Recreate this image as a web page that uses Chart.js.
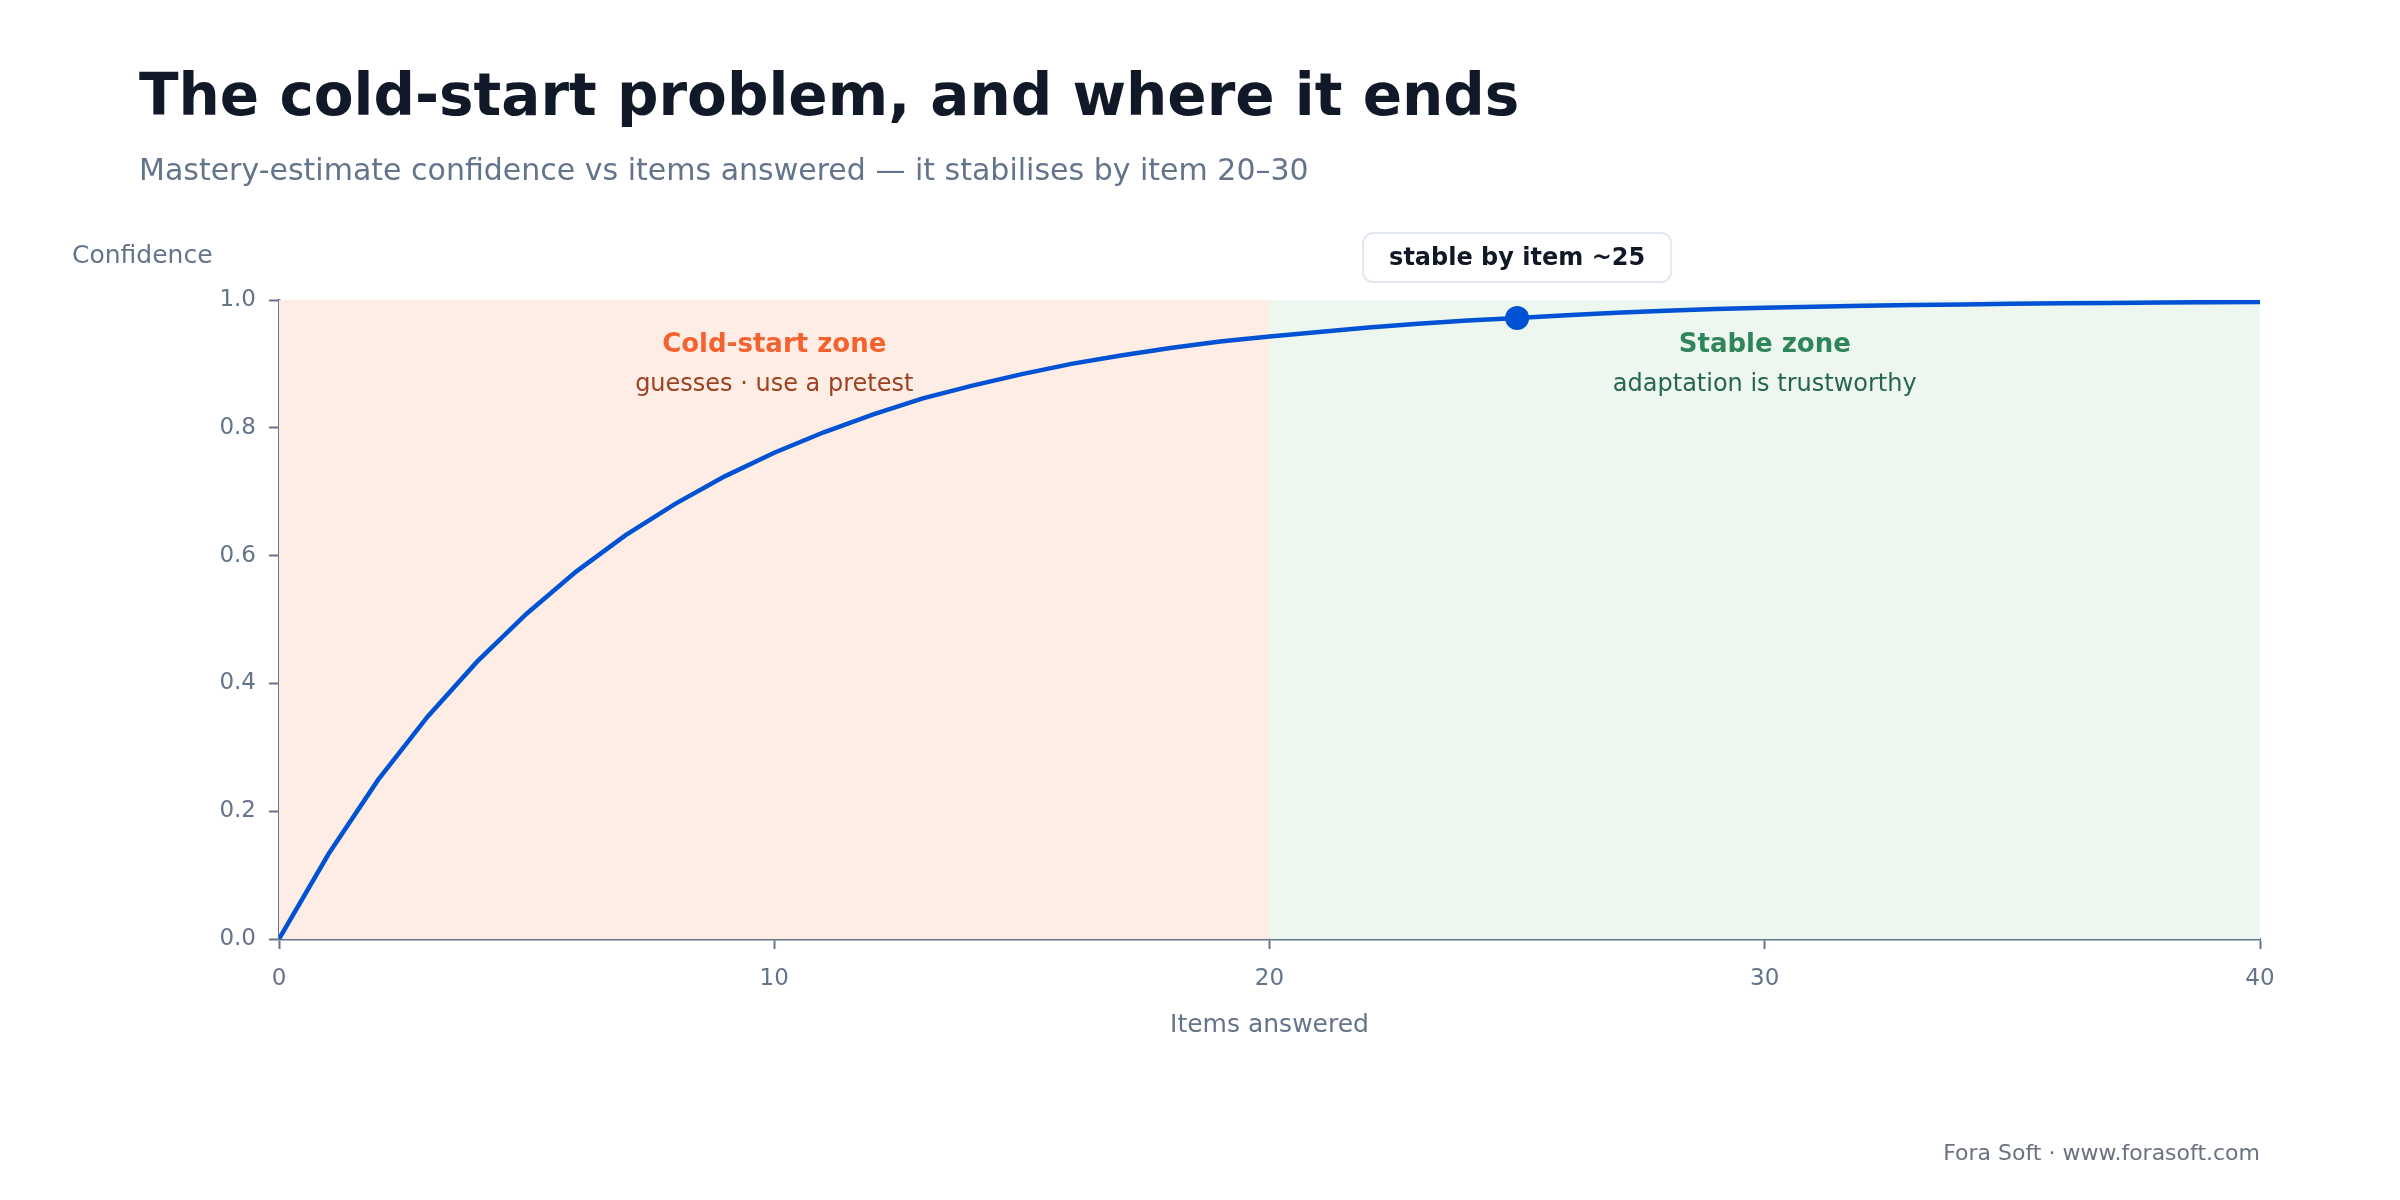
<!DOCTYPE html>
<html>
<head>
<meta charset="utf-8">
<script src="https://cdn.jsdelivr.net/npm/chart.js@4.4.1/dist/chart.umd.min.js"></script>
<style>
  html, body { margin: 0; padding: 0; background: #ffffff; }
  #wrap { position: relative; width: 2400px; height: 1200px; }
</style>
</head>
<body>
<div id="wrap"><canvas id="c"></canvas></div>
<script>
// ---- data ----
const itemsAnswered = [0,1,2,3,4,5,6,7,8,9,10,11,12,13,14,15,16,17,18,19,20,21,22,23,24,25,26,27,28,29,30,31,32,33,34,35,36,37,38,39,40];
const confidence = [0.000,0.133,0.249,0.348,0.434,0.509,0.575,0.632,0.681,0.724,0.761,0.793,0.821,0.846,0.866,0.884,0.900,0.913,0.925,0.935,0.943,0.950,0.957,0.963,0.968,0.972,0.976,0.980,0.983,0.986,0.988,0.9895,0.991,0.992,0.993,0.994,0.9948,0.9955,0.9961,0.9966,0.997];
const xTickValues = [0, 10, 20, 30, 40];
const yTickValues = [0.0, 0.2, 0.4, 0.6, 0.8, 1.0];
const zoneStarts = [0, 20];
const zoneEnds = [20, 40];
const zoneTitles = ['Cold-start zone', 'Stable zone'];
const zoneNotes = ['guesses \u00b7 use a pretest', 'adaptation is trustworthy'];
const stableItem = 25;
const stableLabel = 'stable by item ~25';

const titleText = 'The cold-start problem, and where it ends';
const subtitleText = 'Mastery-estimate confidence vs items answered \u2014 it stabilises by item 20\u201330';
const yAxisTitle = 'Confidence';
const xAxisTitle = 'Items answered';
const footerText = 'Fora Soft \u00b7 www.forasoft.com';

// ---- styles ----
const FONT = "'DejaVu Sans', 'Noto Sans', sans-serif";
const AXIS = '#64748b';
const LINE = '#0052d4';
const zoneFills = ['#fdede5', '#edf7ef'];
const zoneTitleColors = ['#f4632f', '#2f855a'];
const zoneNoteColors = ['#9c4221', '#276749'];

const points = itemsAnswered.map((x, i) => ({ x: x, y: confidence[i] }));
const markerPoint = [{ x: stableItem, y: confidence[itemsAnswered.indexOf(stableItem)] }];

const decor = {
  id: 'decor',
  beforeDatasetsDraw(chart) {
    const { ctx, chartArea, scales } = chart;
    const xs = scales.x;
    ctx.save();
    for (let i = 0; i < zoneStarts.length; i++) {
      const x0 = xs.getPixelForValue(zoneStarts[i]);
      const x1 = xs.getPixelForValue(zoneEnds[i]);
      ctx.fillStyle = zoneFills[i];
      ctx.fillRect(x0, chartArea.top, x1 - x0, chartArea.bottom - chartArea.top);
    }
    ctx.textAlign = 'center';
    ctx.textBaseline = 'alphabetic';
    for (let i = 0; i < zoneStarts.length; i++) {
      const xc = xs.getPixelForValue((zoneStarts[i] + zoneEnds[i]) / 2);
      ctx.font = 'bold 26px ' + FONT;
      ctx.fillStyle = zoneTitleColors[i];
      ctx.fillText(zoneTitles[i], xc, chartArea.top + 52);
      ctx.font = '24px ' + FONT;
      ctx.fillStyle = zoneNoteColors[i];
      ctx.fillText(zoneNotes[i], xc, chartArea.top + 91);
    }
    ctx.restore();
  },
  afterDraw(chart) {
    const { ctx, chartArea, scales } = chart;
    const xs = scales.x;
    ctx.save();
    // title & subtitle
    ctx.textAlign = 'left';
    ctx.textBaseline = 'alphabetic';
    ctx.fillStyle = '#111827';
    ctx.font = 'bold 58px ' + FONT;
    ctx.fillText(titleText, 139, 115);
    ctx.fillStyle = AXIS;
    ctx.font = '30px ' + FONT;
    ctx.fillText(subtitleText, 139, 180);
    // y axis title
    ctx.font = '25px ' + FONT;
    ctx.fillText(yAxisTitle, 72, 263);
    // x axis title
    ctx.textAlign = 'center';
    ctx.font = '25px ' + FONT;
    ctx.fillText(xAxisTitle, (chartArea.left + chartArea.right) / 2, 1032);
    // footer
    ctx.textAlign = 'right';
    ctx.fillStyle = '#6b7280';
    ctx.font = '22px ' + FONT;
    ctx.fillText(footerText, chartArea.right, 1160);
    // annotation box
    const bx = xs.getPixelForValue(stableItem);
    ctx.font = 'bold 24px ' + FONT;
    const tw = ctx.measureText(stableLabel).width;
    const w = tw + 52, h = 49;
    const left = bx - w / 2, top = 233;
    ctx.beginPath();
    ctx.roundRect(left, top, w, h, 10);
    ctx.fillStyle = '#ffffff';
    ctx.fill();
    ctx.lineWidth = 2;
    ctx.strokeStyle = '#e2e8f0';
    ctx.stroke();
    ctx.fillStyle = '#111827';
    ctx.textAlign = 'center';
    ctx.textBaseline = 'middle';
    ctx.fillText(stableLabel, bx, top + h / 2 + 1);
    ctx.restore();
  }
};

new Chart(document.getElementById('c'), {
  type: 'line',
  data: {
    datasets: [
      {
        data: points,
        borderColor: LINE,
        borderWidth: 4.5,
        pointRadius: 0,
        tension: 0,
        fill: false,
        order: 2
      },
      {
        data: markerPoint,
        showLine: false,
        pointRadius: 12,
        pointHoverRadius: 12,
        pointBackgroundColor: LINE,
        pointBorderColor: LINE,
        pointBorderWidth: 0,
        order: 1
      }
    ]
  },
  options: {
    responsive: true,
    maintainAspectRatio: false,
    animation: false,
    devicePixelRatio: 1,
    events: [],
    layout: { padding: { top: 300, right: 140, left: 0, bottom: 0 } },
    plugins: { legend: { display: false }, title: { display: false }, tooltip: { enabled: false } },
    scales: {
      x: {
        type: 'linear',
        min: 0, max: 40,
        afterBuildTicks(scale) { scale.ticks = xTickValues.map(v => ({ value: v })); },
        afterFit(scale) { scale.height = 261; },
        border: { display: true, color: AXIS, width: 2.5 },
        grid: { display: true, drawOnChartArea: false, drawTicks: true, tickLength: 10, tickColor: AXIS, tickWidth: 2 },
        ticks: { color: AXIS, font: { size: 23, family: FONT }, padding: 16, maxRotation: 0, callback: v => String(v) }
      },
      y: {
        type: 'linear',
        min: 0, max: 1,
        afterBuildTicks(scale) { scale.ticks = yTickValues.map(v => ({ value: v })); },
        afterFit(scale) { scale.width = 279; },
        border: { display: true, color: AXIS, width: 2.5 },
        grid: { display: true, drawOnChartArea: false, drawTicks: true, tickLength: 10, tickColor: AXIS, tickWidth: 2 },
        ticks: { color: AXIS, font: { size: 23, family: FONT }, padding: 13, callback: v => Number(v).toFixed(1) }
      }
    }
  },
  plugins: [decor]
});
</script>
</body>
</html>
